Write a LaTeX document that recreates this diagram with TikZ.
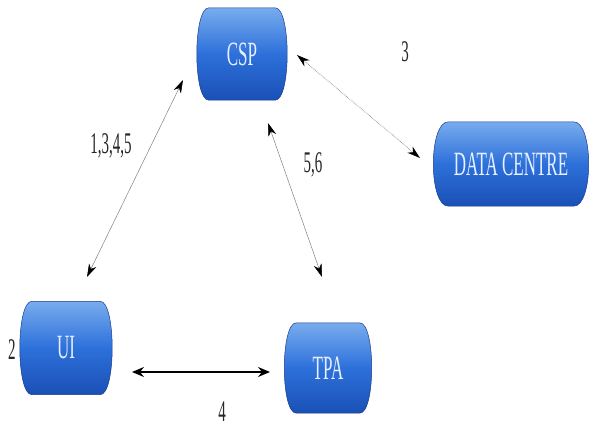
\documentclass[tikz,border=0pt]{standalone}
\usepackage{fontspec}
\setmainfont{Liberation Serif}[FakeStretch=0.5]
\usetikzlibrary{arrows.meta,backgrounds}
\definecolor{boxtop}{RGB}{120,172,238}
\definecolor{boxmid}{RGB}{45,112,218}
\definecolor{boxbot}{RGB}{26,80,182}
\definecolor{boxedge}{RGB}{25,60,140}
\definecolor{boxtext}{RGB}{232,240,255}
\tikzset{
  pill/.style={rectangle, inner sep=0pt, text=boxtext, font=\fontsize{34}{34}\selectfont},
  pillfill/.style={draw=boxedge, line width=0.5pt, top color=boxtop, bottom color=boxbot,
    middle color=boxmid},
  lbl/.style={font=\fontsize{30}{30}\selectfont, inner sep=0pt, text=black!85},
  thinarrow/.style={{Stealth[length=13pt,width=8pt,inset=4pt,black]}-{Stealth[length=13pt,width=8pt,inset=4pt,black]},
    line width=0.5pt, draw=black!50},
  dotarrow/.style={thinarrow, densely dotted, line width=0.8pt},
  thickarrow/.style={{Stealth[length=12pt,width=10pt,inset=4pt,black]}-{Stealth[length=12pt,width=10pt,inset=4pt,black]},
    line width=1.6pt, draw=black},
}
\newcommand\pillbox[2]{%
  \path[pillfill] ([xshift=#2]#1.north west) -- ([xshift=-#2]#1.north east)
    .. controls ([xshift=#2/3]#1.north east) and ([xshift=#2/3]#1.south east) .. ([xshift=-#2]#1.south east)
    -- ([xshift=#2]#1.south west)
    .. controls ([xshift=-#2/3]#1.south west) and ([xshift=-#2/3]#1.north west) .. cycle;}
\begin{document}
\begin{tikzpicture}[x=1pt,y=-1pt]
\useasboundingbox (0,0) rectangle (595,430);
\node[pill, minimum width=90pt, minimum height=92pt] (csp) at (242,54) {CSP};
\node[pill, minimum width=155pt, minimum height=84pt] (dc) at (511,164) {DATA CENTRE};
\node[pill, minimum width=92pt, minimum height=93pt] (ui) at (66,348) {UI};
\node[pill, minimum width=87pt, minimum height=90pt] (tpa) at (328,368) {TPA};
\begin{scope}[on background layer]
\pillbox{csp}{12pt}
\pillbox{dc}{15pt}
\pillbox{ui}{12pt}
\pillbox{tpa}{12pt}
\end{scope}
\coordinate (cu1) at (183,80);
\coordinate (cu2) at (87,277);
\coordinate (ct1) at (268,123);
\coordinate (ct2) at (322,277);
\coordinate (cd1) at (297,55);
\coordinate (cd2) at (420,158);
\coordinate (ut1) at (132,372);
\coordinate (ut2) at (270,372);
\draw[thinarrow] (cu1) -- (cu2);
\draw[thinarrow] (ct1) -- (ct2);
\draw[dotarrow] (cd1) -- (cd2);
\draw[thickarrow] (ut1) -- (ut2);
\node[lbl] (l3) at (405,52) {3};
\node[lbl] (l1345) at (111,146) {1,3,4,5};
\node[lbl] (l56) at (313,165) {5,6};
\node[lbl] (l2) at (12,350) {2};
\node[lbl] (l4) at (222,412) {4};
\end{tikzpicture}
\end{document}
